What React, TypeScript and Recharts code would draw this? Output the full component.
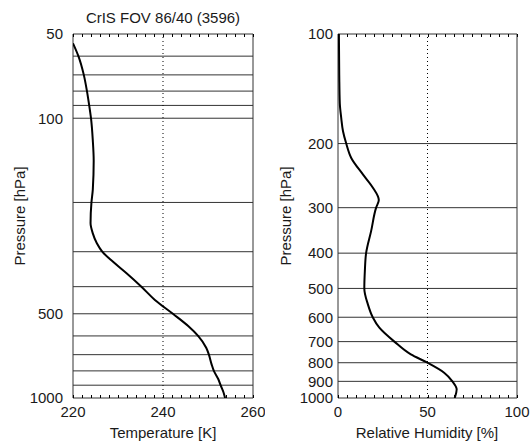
import React from 'react';
import { LineChart, Line, XAxis, YAxis, ReferenceLine, ReferenceArea } from 'recharts';

const title = 'CrIS FOV 86/40 (3596)';
const pressureLabel = 'Pressure [hPa]';
const tempAxisLabel = 'Temperature [K]';
const rhAxisLabel = 'Relative Humidity [%]';

// Temperature profile (pressure hPa, temperature K)
const tempPressure = [54, 60, 70, 80, 90, 100, 120, 142, 180, 200, 237, 258, 280, 300, 326, 358, 400, 446, 500, 553, 600, 661, 700, 758, 800, 857, 900, 950, 1000];
const tempValues = [220.0, 221.2, 222.4, 223.1, 223.6, 224.0, 224.4, 224.6, 224.4, 224.1, 223.9, 224.4, 225.3, 226.5, 228.9, 231.9, 235.2, 238.2, 242.2, 245.6, 247.8, 249.6, 250.2, 250.8, 251.3, 252.3, 252.8, 253.4, 253.8];

// Relative humidity profile (pressure hPa, RH %)
const rhPressure = [100, 130, 155, 170, 185, 200, 219, 243, 264, 286, 300, 348, 400, 448, 500, 553, 600, 641, 700, 759, 800, 852, 900, 946, 1000];
const rhValues = [0.5, 0.7, 1.0, 1.8, 2.8, 4.6, 7.4, 13.9, 19.4, 22.8, 21.3, 18.5, 15.7, 15.0, 14.7, 16.7, 19.4, 23.1, 31.5, 40.7, 50.0, 59.3, 63.9, 66.3, 65.2];

// Horizontal level lines
const tempLevels = [60, 70, 80, 90, 100, 200, 300, 400, 500, 600, 700, 800, 900];
const rhLevels = [200, 300, 400, 500, 600, 700, 800, 900];

// Ticks
const tempYTicks = [50, 100, 500, 1000];
const rhYTicks = [100, 200, 300, 400, 500, 600, 700, 800, 900, 1000];
const tempXLabels = [220, 240, 260];
const tempXMinor = [220, 222, 224, 226, 228, 230, 232, 234, 236, 238, 240, 242, 244, 246, 248, 250, 252, 254, 256, 258, 260];
const rhXLabels = [0, 50, 100];
const rhXMinor = [0, 5, 10, 15, 20, 25, 30, 35, 40, 45, 50, 55, 60, 65, 70, 75, 80, 85, 90, 95, 100];
const tempRef = 240;
const rhRef = 50;

const tempData = tempPressure.map((p, i) => ({ p, v: tempValues[i] }));
const rhData = rhPressure.map((p, i) => ({ p, v: rhValues[i] }));

const FONT = '"Liberation Sans", Arial, Helvetica, sans-serif';
const TEXT = '#1a1a1a';
const INK = '#333333';
const PLOT_TOP = 34;
const PLOT_BOTTOM = 398;
const FS = 15;

const makeTick = (labels: number[]) => (props: any) => {
  const { x, payload } = props;
  const v = payload.value;
  const xx = Math.round(x) + 0.5;
  return (
    <g>
      <line x1={xx} x2={xx} y1={PLOT_BOTTOM} y2={PLOT_BOTTOM - 3} stroke="#000" strokeWidth={1} />
      <line x1={xx} x2={xx} y1={PLOT_TOP} y2={PLOT_TOP + 3} stroke="#000" strokeWidth={1} />
      {labels.includes(v) && (
        <text x={x} y={PLOT_BOTTOM + 19} textAnchor="middle" fill={TEXT} fontSize={FS} fontFamily={FONT}>
          {v}
        </text>
      )}
    </g>
  );
};

type PanelProps = {
  data: { p: number; v: number }[];
  xDomain: [number, number];
  yDomain: [number, number];
  xMinor: number[];
  xLabels: number[];
  yTicks: number[];
  levels: number[];
  refX: number;
  width: number;
  marginRight: number;
  tickGap: number;
};

function Panel(props: PanelProps) {
  const { data, xDomain, yDomain, xMinor, xLabels, yTicks, levels, refX, width, marginRight, tickGap } = props;
  return (
    <LineChart
      width={width}
      height={447}
      data={data}
      layout="vertical"
      margin={{ top: PLOT_TOP, right: marginRight, bottom: 0, left: 0 }}
    >
      <XAxis
        type="number"
        domain={xDomain}
        allowDataOverflow
        ticks={xMinor}
        interval={0}
        height={447 - PLOT_BOTTOM}
        tickSize={0}
        tickMargin={0}
        tickLine={false}
        axisLine={false}
        tick={makeTick(xLabels)}
      />
      <YAxis
        type="number"
        dataKey="p"
        scale="log"
        domain={yDomain}
        allowDataOverflow
        ticks={yTicks}
        interval={0}
        width={73}
        tickSize={0}
        tickMargin={tickGap}
        tickLine={false}
        axisLine={false}
        tick={{ fontSize: FS, fill: TEXT, fontFamily: FONT }}
      />
      {levels.map((lv) => (
        <ReferenceLine key={lv} y={lv} stroke={INK} strokeWidth={1} />
      ))}
      <ReferenceLine x={refX} stroke="#000" strokeWidth={1} strokeDasharray="1 3" />
      <ReferenceArea
        x1={xDomain[0]}
        x2={xDomain[1]}
        y1={yDomain[0]}
        y2={yDomain[1]}
        fill="none"
        fillOpacity={0}
        stroke={INK}
        strokeWidth={1}
      />
      <Line
        type="monotone"
        dataKey="v"
        stroke="#000"
        strokeWidth={2}
        dot={false}
        isAnimationActive={false}
      />
    </LineChart>
  );
}

export default function App() {
  return (
    <div style={{ position: 'absolute', left: 0, top: 0, width: 531, height: 447, background: '#fff', overflow: 'hidden' }}>
      <div style={{ position: 'absolute', left: 0, top: 0 }}>
        <Panel
          data={tempData}
          xDomain={[220, 260]}
          yDomain={[50, 1000]}
          xMinor={tempXMinor}
          xLabels={tempXLabels}
          yTicks={tempYTicks}
          levels={tempLevels}
          refX={tempRef}
          width={265}
          marginRight={12}
          tickGap={10}
        />
      </div>
      <div style={{ position: 'absolute', left: 265, top: 0 }}>
        <Panel
          data={rhData}
          xDomain={[0, 100]}
          yDomain={[100, 1000]}
          xMinor={rhXMinor}
          xLabels={rhXLabels}
          yTicks={rhYTicks}
          levels={rhLevels}
          refX={rhRef}
          width={266}
          marginRight={14}
          tickGap={5}
        />
      </div>
      <svg
        width={531}
        height={447}
        style={{ position: 'absolute', left: 0, top: 0, pointerEvents: 'none' }}
      >
        <g fontFamily={FONT} fontSize={FS} fill={TEXT}>
          <text x={163} y={17} textAnchor="middle" dominantBaseline="central">{title}</text>
          <text x={163} y={432} textAnchor="middle" dominantBaseline="central">{tempAxisLabel}</text>
          <text x={427} y={432} textAnchor="middle" dominantBaseline="central">{rhAxisLabel}</text>
          <text x={19} y={216} textAnchor="middle" dominantBaseline="central" transform="rotate(-90 19 216)">{pressureLabel}</text>
          <text x={285} y={216} textAnchor="middle" dominantBaseline="central" transform="rotate(-90 285 216)">{pressureLabel}</text>
        </g>
      </svg>
    </div>
  );
}
